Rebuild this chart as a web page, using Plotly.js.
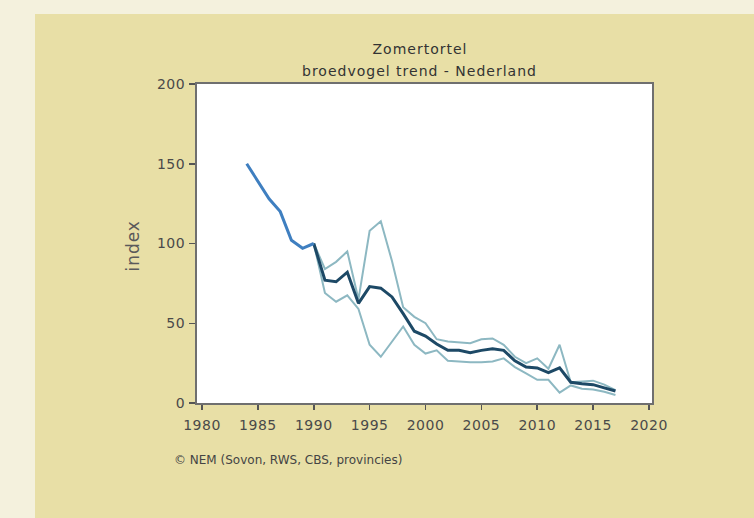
<!DOCTYPE html>
<html>
<head>
<meta charset="utf-8">
<script src="https://cdn.plot.ly/plotly-3.0.1.min.js"></script>
<style>
  html, body { margin: 0; padding: 0; background: #f4f1dd; width: 754px; height: 518px; overflow: hidden; }
  #chart { position: absolute; left: 35px; top: 14px; width: 719px; height: 504px; }
  #chart .xtick text, #chart .ytick text { letter-spacing: 0.5px; }
  #chart .annotation[data-index="0"] .annotation-text,
  #chart .annotation[data-index="1"] .annotation-text,
  #chart .annotation[data-index="2"] .annotation-text { letter-spacing: 1px; }
</style>
</head>
<body>
<div id="chart"></div>
<script>
// Early years (single series before 1990)
const earlyYears = [1984, 1985, 1986, 1987, 1988, 1989, 1990];
const earlyIndex = [150, 139, 128, 120, 102, 97, 100];

// Trend and confidence bounds from 1990
const trendYears = [1990, 1991, 1992, 1993, 1994, 1995, 1996, 1997, 1998, 1999,
                    2000, 2001, 2002, 2003, 2004, 2005, 2006, 2007, 2008, 2009,
                    2010, 2011, 2012, 2013, 2014, 2015, 2016, 2017];
const trendIndex = [100, 77, 76, 82, 62.5, 73, 72, 66.5, 56, 45,
                    42, 37, 33, 33, 31.5, 33, 34, 33, 26.5, 22.5,
                    22, 19, 22, 13, 12, 11.5, 9.5, 7.5];
const upperIndex = [100, 84, 88.5, 95, 65, 108, 114, 89, 60, 54,
                    50, 40, 38.5, 38, 37.5, 40, 40.5, 36.5, 29, 25,
                    28, 21.5, 36.5, 13, 13.5, 14, 11.5, 8];
const lowerIndex = [100, 69, 63.5, 67.5, 59, 36.5, 29, 38.5, 48, 36.5,
                    31, 33, 26.5, 26, 25.5, 25.5, 26, 28, 22.5, 18.5,
                    14.5, 14.5, 6.5, 11, 9, 8.5, 7, 5];

const xTicks = [1980, 1985, 1990, 1995, 2000, 2005, 2010, 2015, 2020];
const yTicks = [0, 50, 100, 150, 200];

const titleLine1 = 'Zomertortel';
const titleLine2 = 'broedvogel trend - Nederland';
const yTitle = 'index';
const credit = '\u00A9 NEM (Sovon, RWS, CBS, provincies)';

const lightCol = '#8db8c2';
const darkCol = '#1d4966';
const earlyCol = '#3f7fc0';

const traces = [
  { x: trendYears, y: upperIndex, mode: 'lines', line: { color: lightCol, width: 2 }, hoverinfo: 'skip' },
  { x: trendYears, y: lowerIndex, mode: 'lines', line: { color: lightCol, width: 2 }, hoverinfo: 'skip' },
  { x: trendYears, y: trendIndex, mode: 'lines', line: { color: darkCol, width: 3 } },
  { x: earlyYears, y: earlyIndex, mode: 'lines', line: { color: earlyCol, width: 3 } }
];

const fam = 'DejaVu Sans, Verdana, sans-serif';
const tickFont = { family: fam, size: 14, color: '#4a4a4a' };

const layout = {
  width: 719, height: 504,
  margin: { l: 162, r: 102, t: 70, b: 115 },
  paper_bgcolor: '#e8dfa6',
  plot_bgcolor: '#ffffff',
  showlegend: false,
  font: tickFont,
  xaxis: {
    range: [1979.55, 2020.27],
    tickmode: 'array', tickvals: xTicks, ticktext: xTicks.map(String),
    ticks: 'outside', ticklen: 5, tickwidth: 1.5, tickcolor: '#555',
    ticklabelstandoff: 3,
    showline: true, linecolor: '#6f6f6f', linewidth: 2, mirror: true,
    showgrid: false, zeroline: false,
    tickfont: tickFont
  },
  yaxis: {
    range: [0, 200],
    tickmode: 'array', tickvals: yTicks, ticktext: yTicks.map(String),
    ticks: 'outside', ticklen: 6, tickwidth: 1.5, tickcolor: '#555',
    ticklabelstandoff: 1,
    showline: true, linecolor: '#6f6f6f', linewidth: 2, mirror: true,
    showgrid: false, zeroline: false,
    tickfont: tickFont
  },
  annotations: [
    { text: titleLine1, xref: 'paper', yref: 'paper', x: 0.49, y: 1.11, xanchor: 'center', yanchor: 'middle',
      showarrow: false, font: { family: fam, size: 14, color: '#333' } },
    { text: titleLine2, xref: 'paper', yref: 'paper', x: 0.49, y: 1.041, xanchor: 'center', yanchor: 'middle',
      showarrow: false, font: { family: fam, size: 14, color: '#333' } },
    { text: yTitle, xref: 'paper', yref: 'paper', x: -0.1407, y: 0.495, xanchor: 'center', yanchor: 'middle',
      textangle: -90, showarrow: false, font: { family: fam, size: 17, color: '#5a5a5a' } },
    { text: credit, xref: 'paper', yref: 'paper', x: -0.055, y: -0.179, xanchor: 'left', yanchor: 'middle',
      showarrow: false, font: { family: fam, size: 12, color: '#444' } }
  ]
};

Plotly.newPlot('chart', traces, layout, { staticPlot: true, displayModeBar: false });
</script>
</body>
</html>
